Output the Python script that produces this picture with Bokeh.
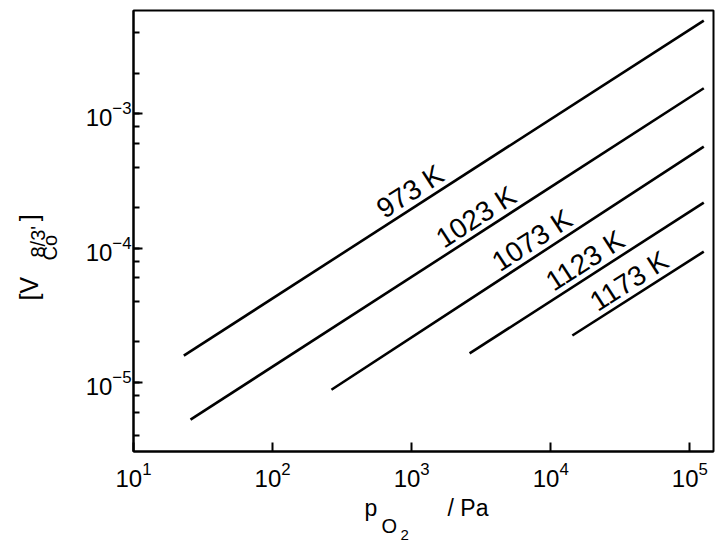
import math
import numpy as np
from bokeh.plotting import figure
from bokeh.models import ColumnDataSource, Label, LogTicker
from bokeh.core.properties import value
from bokeh.embed import file_html
from bokeh.resources import INLINE

# ---- data ----
temps = ["973 K", "1023 K", "1073 K", "1123 K", "1173 K"]
x_start = [23.0, 25.7, 265.0, 2610.0, 14300.0]
x_end = [1.26e5, 1.26e5, 1.26e5, 1.26e5, 1.26e5]
y_start = [1.58e-5, 5.27e-6, 8.8e-6, 1.64e-5, 2.23e-5]
y_end = [4.95e-3, 1.55e-3, 5.7e-4, 2.18e-4, 9.4e-5]
label_x = [1119.0, 3335.0, 8430.0, 20280.0, 42000.0]

X_RANGE = (10.0, 1.48e5)
Y_RANGE = (3.05e-6, 5.88e-3)

FONT = "Liberation Sans"
W, H = 722, 545
BL, BR, BT, BB = 133, 9, 10, 94

p = figure(width=W, height=H, x_axis_type="log", y_axis_type="log",
           x_range=X_RANGE, y_range=Y_RANGE, output_backend="svg",
           toolbar_location=None, title=None,
           min_border_left=BL, min_border_right=BR,
           min_border_top=BT, min_border_bottom=BB)
p.background_fill_color = "white"
p.border_fill_color = "white"
p.grid.visible = False
p.outline_line_color = "black"
p.outline_line_width = 2

for ax in (p.xaxis[0], p.yaxis[0]):
    ax.axis_line_width = 2
    ax.axis_line_color = "black"
    ax.major_tick_line_width = 2
    ax.major_tick_line_color = "black"
    ax.major_tick_in = 9
    ax.major_tick_out = 0
    ax.major_label_text_font = FONT
    ax.major_label_text_font_size = "24px"
    ax.major_label_text_color = "black"

p.xaxis.minor_tick_line_color = None
p.xaxis.major_label_standoff = 6
p.yaxis.minor_tick_in = 6
p.yaxis.minor_tick_out = 0
p.yaxis.minor_tick_line_width = 2
p.yaxis.minor_tick_line_color = "black"
p.yaxis.major_label_standoff = 2
p.xaxis.ticker = LogTicker(desired_num_ticks=5)
p.yaxis.ticker = LogTicker(desired_num_ticks=3)

# ---- lines ----
xs = [[a, b] for a, b in zip(x_start, x_end)]
ys = [[a, b] for a, b in zip(y_start, y_end)]
p.multi_line(xs=xs, ys=ys, line_color="black", line_width=2.6)

# ---- rotated line labels ----
fw = W - BL - BR
fh = H - BT - BB
ppd_x = fw / math.log10(X_RANGE[1] / X_RANGE[0])
ppd_y = fh / math.log10(Y_RANGE[1] / Y_RANGE[0])
lab_y, lab_ang = [], []
for i in range(len(temps)):
    lx = np.log10([x_start[i], x_end[i]])
    ly = np.log10([y_start[i], y_end[i]])
    lab_y.append(10 ** np.interp(np.log10(label_x[i]), lx, ly))
    slope = (ly[1] - ly[0]) / (lx[1] - lx[0])
    lab_ang.append(math.atan(slope * ppd_y / ppd_x))
src = ColumnDataSource(dict(x=label_x, y=lab_y, text=temps, angle=lab_ang))
p.text(x="x", y="y", text="text", angle="angle", source=src,
       text_font=value(FONT), text_font_size="28px", text_color="black",
       text_align="center", text_baseline="bottom")

# ---- axis titles built from pieces (canvas units, in side panels) ----
# (bx, by) is where the text baseline should start; the label is anchored
# at the middle of its text box, which lies 0.35 em above the baseline.
def lab(bx, by, t, size, place, rotated=False):
    shift = 0.35 * size
    if rotated:
        x, y, angle = bx - shift, by, math.pi / 2
    else:
        x, y, angle = bx, by - shift, 0.0
    p.add_layout(Label(x=x, y=y, x_units="canvas", y_units="canvas",
                       text=t, text_font=FONT, text_font_size=f"{size}px",
                       text_color="black", text_align="left",
                       text_baseline="middle", angle=angle), place)

NB = "\u00a0"
# x title: p_{O_2} / Pa
lab(364, 516, "p" + NB * 11 + "/ Pa", 23, "below")
lab(381, 532, "O", 20, "below")

# y title: [V_Co^{8/3'}]
lab(56, 260, "Co", 20, "left", rotated=True)
lab(44, 257, "8/3'", 20, "left", rotated=True)
lab(37, 300, "[V" + NB * 8 + "]", 25, "left", rotated=True)
lab(400, 540, "2", 15, "left")

open("out.html", "w").write(file_html(p, INLINE))
